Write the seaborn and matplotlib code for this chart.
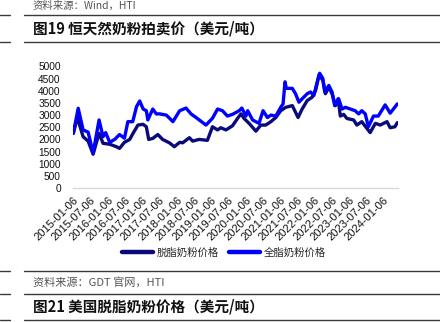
import matplotlib
matplotlib.use("Agg")
import matplotlib.pyplot as plt
import matplotlib.dates as mdates
from matplotlib.lines import Line2D
import seaborn as sns
import pandas as pd

# ---- data ----
skim_dates = ["2015-01-06", "2015-02-18", "2015-04-20", "2015-06-12", "2015-08-04", "2015-10-06",
              "2015-11-17", "2016-01-27", "2016-04-06", "2016-05-10", "2016-07-01", "2016-08-26",
              "2016-09-30", "2016-11-21", "2017-01-15", "2017-02-18", "2017-03-15", "2017-04-27",
              "2017-06-20", "2017-08-09", "2017-10-20", "2017-12-12", "2018-02-06", "2018-03-10",
              "2018-05-20", "2018-06-24", "2018-09-01", "2018-11-27", "2019-01-20", "2019-03-15",
              "2019-04-18", "2019-06-12", "2019-08-20", "2019-10-12", "2019-11-18", "2019-12-21",
              "2020-02-12", "2020-04-24", "2020-06-15", "2020-08-06", "2020-09-30", "2020-11-21",
              "2021-01-12", "2021-03-06", "2021-05-15", "2021-07-15", "2021-08-27", "2021-10-20",
              "2021-12-12", "2022-01-18", "2022-02-21", "2022-04-03", "2022-05-01", "2022-06-06",
              "2022-07-10", "2022-08-15", "2022-09-12", "2022-10-06", "2022-11-10", "2022-12-15",
              "2023-02-24", "2023-03-30", "2023-05-21", "2023-07-15", "2023-08-18", "2023-10-12",
              "2023-12-03", "2024-02-12", "2024-03-17", "2024-05-06", "2024-06-01"]
skim_values = [2250, 2900, 2110, 1930, 1390, 2250,
               1840, 1800, 1700, 1630, 1880, 2000,
               2250, 2590, 2620, 2520, 2000, 2040,
               2200, 2000, 1860, 1700, 1880, 1860,
               2070, 1930, 2000, 1960, 2520, 2390,
               2480, 2390, 2560, 2860, 3050, 2860,
               2660, 2340, 2590, 2590, 2730, 2900,
               3180, 3320, 3390, 2900, 3250, 3600,
               3740, 4030, 4650, 4440, 3880, 4150,
               3880, 3390, 3670, 2960, 3030, 2860,
               2800, 2590, 2730, 2450, 2280, 2660,
               2590, 2730, 2480, 2520, 2690]

whole_dates = ["2015-01-06", "2015-02-27", "2015-04-20", "2015-06-12", "2015-08-04", "2015-10-06",
               "2015-11-17", "2015-12-15", "2016-01-27", "2016-03-20", "2016-05-10", "2016-07-01",
               "2016-08-06", "2016-09-27", "2016-11-06", "2016-12-10", "2017-01-15", "2017-02-18",
               "2017-03-06", "2017-04-27", "2017-06-03", "2017-07-09", "2017-09-18", "2017-11-27",
               "2018-02-06", "2018-04-15", "2018-06-06", "2018-07-30", "2018-11-12", "2019-01-20",
               "2019-03-15", "2019-05-06", "2019-06-27", "2019-08-20", "2019-10-30", "2019-11-27",
               "2020-01-09", "2020-01-28", "2020-03-20", "2020-05-27", "2020-07-09", "2020-08-24",
               "2020-09-30", "2020-11-21", "2021-01-12", "2021-02-06", "2021-02-27", "2021-03-12",
               "2021-05-15", "2021-06-18", "2021-07-24", "2021-08-27", "2021-10-20", "2021-11-24",
               "2021-12-30", "2022-01-24", "2022-03-01", "2022-04-03", "2022-04-24", "2022-06-06",
               "2022-07-10", "2022-08-07", "2022-09-18", "2022-10-24", "2022-11-28", "2023-01-20",
               "2023-03-12", "2023-04-18", "2023-05-21", "2023-06-27", "2023-07-30", "2023-09-22",
               "2023-11-12", "2024-01-24", "2024-03-17", "2024-06-01"]
whole_values = [2250, 3280, 2390, 2300, 1440, 2800,
                2110, 2280, 1880, 2000, 2200, 2050,
                2730, 2730, 3350, 3580, 3250, 3180,
                2800, 3250, 3050, 3050, 3000, 2730,
                3180, 3290, 3050, 2900, 2590, 2870,
                3250, 3180, 2960, 3030, 3180, 3290,
                2960, 3180, 2800, 2660, 3180, 2900,
                3000, 2960, 3320, 3460, 4370, 4100,
                4100, 3880, 3530, 3670, 3880, 3950,
                3810, 4220, 4720, 4510, 3950, 4220,
                3950, 3390, 3670, 3250, 3320, 3250,
                3180, 3050, 3180, 3050, 2520, 2960,
                2960, 3420, 3080, 3460]

series_names = ["脱脂奶粉价格", "全脂奶粉价格"]
tick_dates = ["2015-01-06", "2015-07-06", "2016-01-06", "2016-07-06", "2017-01-06", "2017-07-06",
              "2018-01-06", "2018-07-06", "2019-01-06", "2019-07-06", "2020-01-06", "2020-07-06",
              "2021-01-06", "2021-07-06", "2022-01-06", "2022-07-06", "2023-01-06", "2023-07-06",
              "2024-01-06"]
y_ticks = [0, 500, 1000, 1500, 2000, 2500, 3000, 3500, 4000, 4500, 5000]

df = pd.concat([
    pd.DataFrame({"date": pd.to_datetime(skim_dates), "value": skim_values, "series": series_names[0]}),
    pd.DataFrame({"date": pd.to_datetime(whole_dates), "value": whole_values, "series": series_names[1]}),
], ignore_index=True)

# ---- style ----
sns.set_style("white")
cjk = ["Noto Sans CJK SC", "DejaVu Sans"]
plt.rcParams["font.family"] = cjk

W, H = 440, 322
fig = plt.figure(figsize=(W / 100, H / 100), dpi=100)
ax = fig.add_axes([73.3 / W, 1 - 188 / H, (398 - 73.3) / W, (188 - 66.5) / H])

sns.lineplot(data=df, x="date", y="value", hue="series", hue_order=series_names,
             palette={series_names[0]: "#0a0a7a", series_names[1]: "#0000ff"},
             linewidth=2.4, ax=ax, legend=True, estimator=None, sort=False)

ax.set_xlim(pd.Timestamp("2015-01-06"), pd.Timestamp("2024-06-08"))
ax.set_ylim(0, 5000)
ax.set_yticks(y_ticks)
ax.set_yticklabels([str(v) for v in y_ticks], fontsize=7.3, family="Liberation Sans", color="#111111")
ticks = pd.to_datetime(tick_dates)
ax.set_xticks(ticks)
ax.set_xticklabels(tick_dates, rotation=45, ha="right", rotation_mode="anchor",
                   fontsize=8, family="Liberation Sans", color="#111111")
ax.set_xlabel("")
ax.set_ylabel("")
for s in ["top", "right", "left"]:
    ax.spines[s].set_visible(False)
ax.spines["bottom"].set_color("#d9d9d9")
ax.spines["bottom"].set_linewidth(1.0)
ax.tick_params(axis="x", length=3, color="#d9d9d9", pad=2)
ax.tick_params(axis="y", length=0, pad=9)

leg = ax.legend(loc="center", bbox_to_anchor=(224 / W, 1 - 253 / H), bbox_transform=fig.transFigure,
                ncol=2, frameon=False, fontsize=7.5, handlelength=3.0, columnspacing=1.0,
                handletextpad=0.3)
for line in leg.get_lines():
    line.set_linewidth(3.2)

# ---- page decorations ----
def hline(y, lw=1.0, color="#3a3a3a"):
    fig.add_artist(Line2D([0, 10 / W], [1 - y / H, 1 - y / H], transform=fig.transFigure, lw=lw, color=color))
    fig.add_artist(Line2D([24 / W, 1], [1 - y / H, 1 - y / H], transform=fig.transFigure, lw=lw, color=color))

hline(15.3)
hline(42.3)
hline(271)
hline(294.3)
hline(320)

fig.text(33 / W, 1 - 5.5 / H, "资料来源：Wind，HTI", fontsize=7.5, color="#555555", va="center", ha="left")
fig.text(33 / W, 1 - 29 / H, "图19 恒天然奶粉拍卖价（美元/吨）", fontsize=10.5, fontweight="bold",
         color="#111111", va="center", ha="left")
fig.text(33 / W, 1 - 282 / H, "资料来源：GDT 官网，HTI", fontsize=8, color="#555555", va="center", ha="left")
fig.text(33 / W, 1 - 307 / H, "图21 美国脱脂奶粉价格（美元/吨）", fontsize=10.5, fontweight="bold",
         color="#111111", va="center", ha="left")

fig.savefig("out.png", dpi=100)
